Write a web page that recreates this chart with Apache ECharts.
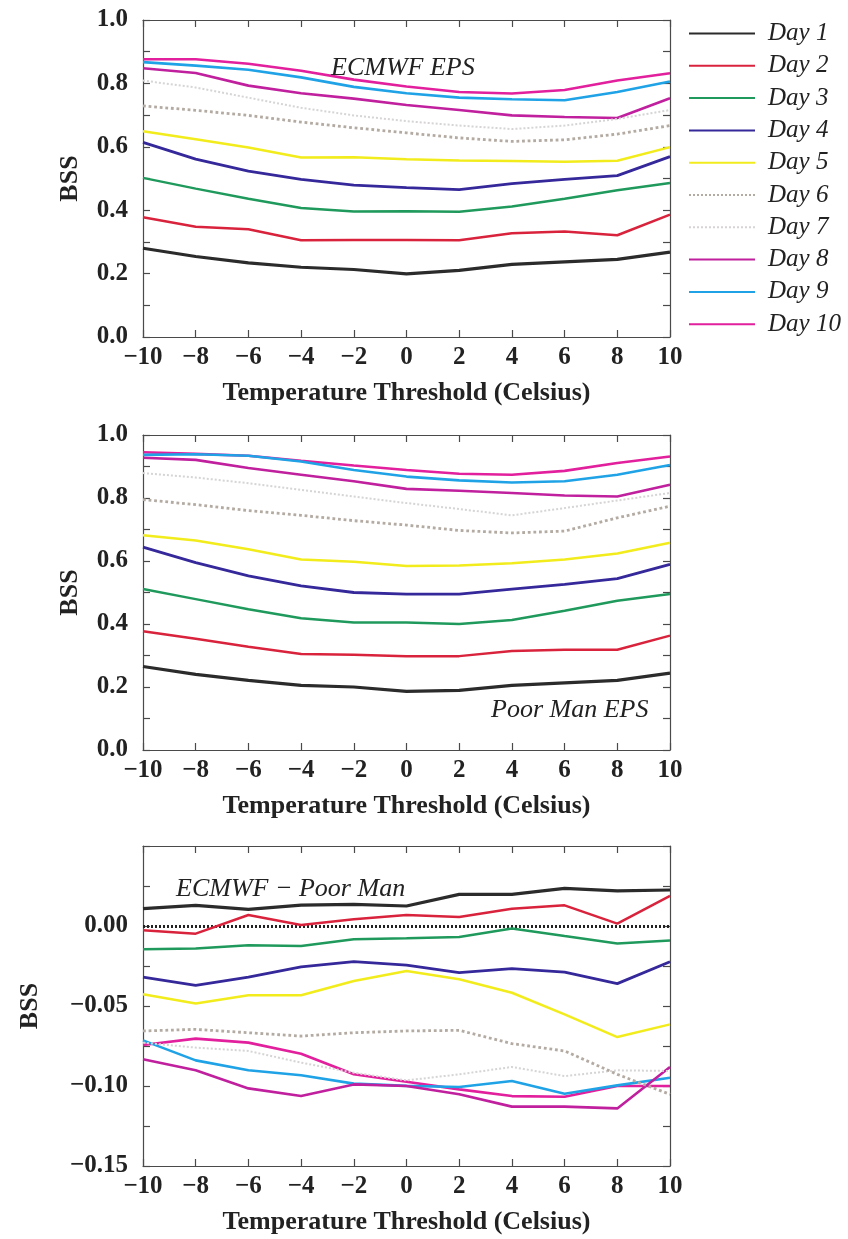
<!DOCTYPE html>
<html>
<head>
<meta charset="utf-8">
<script src="https://cdn.jsdelivr.net/npm/echarts@6/dist/echarts.min.js"></script>
<style>
html,body{margin:0;padding:0;background:#fff;}
#chart{width:848px;height:1239px;}
</style>
</head>
<body>
<div id="chart"></div>
<script>
// ---- data ----
const temps = [-10, -8, -6, -4, -2, 0, 2, 4, 6, 8, 10];
const dayNames = ['Day 1','Day 2','Day 3','Day 4','Day 5','Day 6','Day 7','Day 8','Day 9','Day 10'];
const xTickLabels = ['\u221210','\u22128','\u22126','\u22124','\u22122','0','2','4','6','8','10'];
const panelTitles = ['ECMWF EPS', 'Poor Man EPS', 'ECMWF \u2212 Poor Man'];

// Panel 1: ECMWF EPS
const ecmwfDay1  = [0.280,0.254,0.234,0.220,0.213,0.199,0.210,0.229,0.237,0.245,0.268];
const ecmwfDay2  = [0.378,0.348,0.340,0.305,0.306,0.306,0.305,0.327,0.333,0.321,0.386];
const ecmwfDay3  = [0.502,0.468,0.436,0.407,0.396,0.397,0.395,0.412,0.436,0.463,0.486];
const ecmwfDay4  = [0.614,0.561,0.523,0.497,0.479,0.471,0.465,0.484,0.497,0.509,0.569];
const ecmwfDay5  = [0.649,0.624,0.598,0.566,0.567,0.561,0.557,0.555,0.553,0.556,0.599];
const ecmwfDay6  = [0.729,0.715,0.699,0.678,0.660,0.644,0.628,0.617,0.622,0.640,0.667];
const ecmwfDay7  = [0.809,0.787,0.755,0.723,0.699,0.681,0.667,0.656,0.667,0.688,0.716];
const ecmwfDay8  = [0.848,0.833,0.793,0.769,0.752,0.732,0.716,0.699,0.694,0.691,0.753];
const ecmwfDay9  = [0.867,0.856,0.843,0.819,0.789,0.769,0.755,0.750,0.747,0.773,0.806];
const ecmwfDay10 = [0.876,0.876,0.862,0.840,0.812,0.790,0.773,0.768,0.779,0.809,0.832];

// Panel 2: Poor Man EPS
const poorDay1  = [0.265,0.240,0.221,0.205,0.200,0.186,0.189,0.205,0.213,0.221,0.244];
const poorDay2  = [0.377,0.353,0.328,0.305,0.302,0.298,0.298,0.314,0.318,0.318,0.363];
const poorDay3  = [0.511,0.479,0.447,0.418,0.405,0.405,0.400,0.413,0.442,0.474,0.495];
const poorDay4  = [0.644,0.595,0.553,0.521,0.500,0.495,0.495,0.511,0.526,0.544,0.589];
const poorDay5  = [0.682,0.665,0.637,0.605,0.598,0.584,0.586,0.593,0.605,0.624,0.658];
const poorDay6  = [0.795,0.779,0.760,0.745,0.728,0.714,0.697,0.689,0.695,0.737,0.774];
const poorDay7  = [0.879,0.865,0.847,0.826,0.805,0.784,0.765,0.745,0.768,0.792,0.816];
const poorDay8  = [0.928,0.921,0.895,0.874,0.853,0.829,0.823,0.816,0.808,0.805,0.842];
const poorDay9  = [0.937,0.939,0.934,0.916,0.889,0.868,0.856,0.849,0.853,0.874,0.905];
const poorDay10 = [0.945,0.940,0.934,0.918,0.903,0.889,0.877,0.874,0.886,0.911,0.932];

// Panel 3: ECMWF - Poor Man
const diffDay1  = [0.0108,0.0129,0.0104,0.0131,0.0135,0.0125,0.0198,0.0198,0.0235,0.0219,0.0225];
const diffDay2  = [-0.0027,-0.0048,0.0069,0.0006,0.0042,0.0069,0.0056,0.0108,0.0129,0.0015,0.0188];
const diffDay3  = [-0.0146,-0.0140,-0.0121,-0.0125,-0.0083,-0.0077,-0.0069,-0.0015,-0.0063,-0.0110,-0.0090];
const diffDay4  = [-0.0319,-0.0371,-0.0319,-0.0256,-0.0223,-0.0244,-0.0292,-0.0267,-0.0288,-0.0360,-0.0223];
const diffDay5  = [-0.0427,-0.0485,-0.0433,-0.0433,-0.0344,-0.0281,-0.0333,-0.0417,-0.0552,-0.0694,-0.0615];
const diffDay6  = [-0.0656,-0.0646,-0.0667,-0.0688,-0.0667,-0.0656,-0.0652,-0.0735,-0.0781,-0.0927,-0.1052];
const diffDay7  = [-0.0729,-0.0760,-0.0781,-0.0854,-0.0917,-0.0965,-0.0927,-0.0881,-0.0938,-0.0902,-0.0906];
const diffDay8  = [-0.0833,-0.0902,-0.1015,-0.1063,-0.0990,-0.1000,-0.1052,-0.1129,-0.1129,-0.1140,-0.0881];
const diffDay9  = [-0.0715,-0.0840,-0.0902,-0.0933,-0.0985,-0.0999,-0.1006,-0.0969,-0.1048,-0.0996,-0.0948];
const diffDay10 = [-0.0744,-0.0704,-0.0729,-0.0798,-0.0927,-0.0973,-0.1021,-0.1063,-0.1067,-0.1000,-0.1000];

const ecmwfSeries = [ecmwfDay1,ecmwfDay2,ecmwfDay3,ecmwfDay4,ecmwfDay5,ecmwfDay6,ecmwfDay7,ecmwfDay8,ecmwfDay9,ecmwfDay10];
const poorSeries  = [poorDay1,poorDay2,poorDay3,poorDay4,poorDay5,poorDay6,poorDay7,poorDay8,poorDay9,poorDay10];
const diffSeries  = [diffDay1,diffDay2,diffDay3,diffDay4,diffDay5,diffDay6,diffDay7,diffDay8,diffDay9,diffDay10];

// ---- styles ----
const dayStyles = [
  {color:'#2b2b2b', width:3.2, type:'solid'},
  {color:'#d9233c', width:2.5, type:'solid'},
  {color:'#1f9a5c', width:2.5, type:'solid'},
  {color:'#35289a', width:2.8, type:'solid'},
  {color:'#f2ec1c', width:2.5, type:'solid'},
  {color:'#b3aaa2', width:2.8, type:'dotted'},
  {color:'#d6d4d4', width:2,   type:'dotted'},
  {color:'#c0209e', width:2.6, type:'solid'},
  {color:'#1fa3e6', width:2.6, type:'solid'},
  {color:'#e21f9c', width:2.6, type:'solid'}
];

const FONT = '"Liberation Serif", "DejaVu Serif", serif';
const AXC = '#4a4a4a';
const LBL = 25;

const grids = [
  {left:143, right:178, top:20,  height:317},
  {left:143, right:178, top:435, height:315},
  {left:143, right:178, top:846, height:320}
];

function fmtX(v){ const i = temps.indexOf(v); return i>=0 ? xTickLabels[i] : ''; }

const xAxes = [], yAxes = [];
grids.forEach((g, gi) => {
  xAxes.push({
    type:'value', gridIndex:gi, min:-10, max:10, interval:2, position:'bottom',
    axisLine:{show:true, onZero:false, lineStyle:{color:AXC, width:1.2}},
    axisTick:{show:true, inside:true, length:7, lineStyle:{color:AXC, width:1.2}},
    splitLine:{show:false},
    axisLabel:{show:true, margin:8, formatter:fmtX, fontFamily:FONT, fontWeight:'bold', fontSize:LBL, color:'#222'},
    name:'Temperature Threshold (Celsius)', nameLocation:'middle', nameGap:43,
    nameTextStyle:{fontFamily:FONT, fontWeight:'bold', fontSize:26, color:'#222'}
  });
  xAxes.push({
    type:'value', gridIndex:gi, min:-10, max:10, interval:2, position:'top',
    axisLine:{show:true, onZero:false, lineStyle:{color:AXC, width:1.2}},
    axisTick:{show:true, inside:true, length:7, lineStyle:{color:AXC, width:1.2}},
    splitLine:{show:false}, axisLabel:{show:false}
  });
});

const yCfg = [
  {min:0, max:1, interval:0.2, gap:60, fmt:v=>v.toFixed(1)},
  {min:0, max:1, interval:0.2, gap:60, fmt:v=>v.toFixed(1)},
  {min:-0.15, max:0.05, interval:0.05, gap:100, fmt:v=>{ if (v > 0.04) return ''; const s = Math.abs(v).toFixed(2); return (v < -1e-9 ? '\u2212' : '') + s; }}
];
grids.forEach((g, gi) => {
  const c = yCfg[gi];
  yAxes.push({
    type:'value', gridIndex:gi, min:c.min, max:c.max, interval:c.interval, position:'left',
    axisLine:{show:true, onZero:false, lineStyle:{color:AXC, width:1.2}},
    axisTick:{show:true, inside:true, length:7, lineStyle:{color:AXC, width:1.2}},
    minorTick:{show:true, splitNumber:2, length:7, lineStyle:{color:AXC, width:1.2}},
    splitLine:{show:false}, minorSplitLine:{show:false},
    axisLabel:{show:true, margin:15, formatter:c.fmt, fontFamily:FONT, fontWeight:'bold', fontSize:LBL, color:'#222'},
    name:'BSS', nameLocation:'middle', nameGap:c.gap,
    nameTextStyle:{fontFamily:FONT, fontWeight:'bold', fontSize:26, color:'#222'}
  });
  yAxes.push({
    type:'value', gridIndex:gi, min:c.min, max:c.max, interval:c.interval, position:'right',
    axisLine:{show:true, onZero:false, lineStyle:{color:AXC, width:1.2}},
    axisTick:{show:true, inside:true, length:7, lineStyle:{color:AXC, width:1.2}},
    minorTick:{show:true, splitNumber:2, length:7, lineStyle:{color:AXC, width:1.2}},
    splitLine:{show:false}, minorSplitLine:{show:false}, axisLabel:{show:false}
  });
});

const series = [];
[ecmwfSeries, poorSeries, diffSeries].forEach((panel, gi) => {
  panel.forEach((vals, di) => {
    const st = dayStyles[di];
    const s = {
      type:'line', name:dayNames[di], xAxisIndex:gi*2, yAxisIndex:gi*2,
      data: temps.map((t, k) => [t, vals[k]]),
      symbol:'none', silent:true, animation:false,
      lineStyle:{color:st.color, width:st.width, type:st.type},
      itemStyle:{color:st.color},
      z: 10 - di
    };
    if (gi === 2 && di === 0) {
      s.markLine = {
        silent:true, symbol:['none','none'], label:{show:false},
        lineStyle:{color:'#222', width:3, type:[2,2]},
        data:[{yAxis:0}]
      };
    }
    series.push(s);
  });
});

const titles = [
  {text:panelTitles[0], left:331, top:55},
  {text:panelTitles[1], left:491, top:697},
  {text:panelTitles[2], left:176, top:876}
].map(t => ({text:t.text, left:t.left, top:t.top, padding:0,
  textStyle:{fontFamily:FONT, fontStyle:'italic', fontWeight:'normal', fontSize:26, color:'#222'}}));

const option = {
  backgroundColor:'#ffffff',
  animation:false,
  title: titles,
  legend:{
    data:dayNames, orient:'vertical', left:683, top:16,
    itemWidth:66, itemHeight:20, itemGap:7.3,
    itemStyle:{opacity:0, borderWidth:0},
    textStyle:{fontFamily:FONT, fontStyle:'italic', fontSize:25, color:'#222', padding:[0,0,0,8]},
    selectedMode:false
  },
  grid: grids,
  xAxis: xAxes,
  yAxis: yAxes,
  series: series
};

const chart = echarts.init(document.getElementById('chart'), null, {renderer:'canvas'});
chart.setOption(option);
</script>
</body>
</html>
